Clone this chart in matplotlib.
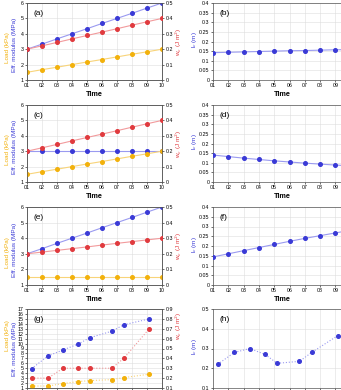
import numpy as np
import matplotlib.pyplot as plt

plt.rcParams['font.family'] = ['Liberation Sans', 'DejaVu Sans']

# --- data ---
time = [1, 2, 3, 4, 5, 6, 7, 8, 9, 10]
time_labels = ["01", "02", "03", "04", "05", "06", "07", "08", "09", "10"]

# (a) / (b)
a_mod = [3.0, 3.33, 3.67, 4.0, 4.33, 4.67, 5.0, 5.33, 5.67, 6.0]
a_load = [1.5, 1.67, 1.83, 2.0, 2.17, 2.33, 2.5, 2.67, 2.83, 3.0]
a_wc = [0.2, 0.222, 0.244, 0.267, 0.289, 0.311, 0.333, 0.356, 0.378, 0.4]
b_lc = [0.142, 0.144, 0.146, 0.148, 0.150, 0.152, 0.153, 0.155, 0.157, 0.158]

# (c) / (d)
c_mod = [3.0, 3.0, 3.0, 3.0, 3.0, 3.0, 3.0, 3.0, 3.0, 3.0]
c_load = [1.5, 1.67, 1.83, 2.0, 2.17, 2.33, 2.5, 2.67, 2.83, 3.0]
c_wc = [0.2, 0.222, 0.244, 0.267, 0.289, 0.311, 0.333, 0.356, 0.378, 0.4]
d_lc = [0.140, 0.132, 0.124, 0.117, 0.110, 0.104, 0.098, 0.093, 0.088, 0.084]

# (e) / (f)
e_mod = [3.0, 3.33, 3.67, 4.0, 4.33, 4.67, 5.0, 5.33, 5.67, 6.0]
e_load = [1.5, 1.5, 1.5, 1.5, 1.5, 1.5, 1.5, 1.5, 1.5, 1.5]
e_wc = [0.2, 0.211, 0.222, 0.233, 0.244, 0.256, 0.267, 0.278, 0.289, 0.3]
f_lc = [0.144, 0.160, 0.176, 0.192, 0.208, 0.224, 0.239, 0.253, 0.267, 0.281]

# (g) / (h) - measured at irregular times
g_time = [1.3, 2.4, 3.4, 4.4, 5.2, 6.65, 7.45, 9.15]
g_mod = [4.9, 7.5, 8.7, 9.9, 11.2, 12.5, 13.8, 15.0]
g_load = [1.4, 1.4, 1.9, 2.3, 2.5, 2.7, 3.1, 3.8]
g_wc = [0.2, 0.2, 0.3, 0.3, 0.3, 0.3, 0.4, 0.7]
h_lc = [0.22, 0.28, 0.30, 0.27, 0.225, 0.235, 0.28, 0.365]

# colours
BLUE, BLUE_L = "#3a3ad6", "#9a9af0"
RED, RED_L = "#e03a3e", "#f29a9c"
YEL, YEL_L = "#f2b10c", "#f8d47a"

TICK_FS = 3.8
LAB_FS = 4.6


def style_axis(ax):
    ax.tick_params(labelsize=TICK_FS, length=1.5, width=0.4, pad=1)
    for s in ax.spines.values():
        s.set_linewidth(0.5)
        s.set_color("#555555")


def series(ax, x, y, col, col_l, ls):
    ax.plot(x, y, color=col_l, lw=0.8, ls=ls, zorder=2)
    ax.plot(x, y, ls="none", marker="o", ms=2.6, color=col, zorder=3)


def set_time_axis(ax, n_labels, xlabel):
    ax.set_xlim(1, 10)
    ax.set_xticks(time)
    # labels past the figure edge (or below it) are not visible in the reference
    ax.set_xticklabels(time_labels[:n_labels] + [""] * (10 - n_labels))
    if xlabel:
        ax.set_xlabel("Time", fontsize=5.2, fontweight="bold", labelpad=1.5)


def left_panel(rect, tag, x, mod, load, wc, ylim, yticks, rlim, rticks, ls,
               lab_y=(0.42, 0.45, 0.5), xlabel=True):
    ax = fig.add_axes(rect)
    set_time_axis(ax, 10 if xlabel else 0, xlabel)
    ax.set_ylim(*ylim)
    ax.set_yticks(yticks)
    ax.grid(True, color="#dddddd", lw=0.4)
    ax.set_axisbelow(True)
    style_axis(ax)
    series(ax, x, mod, BLUE, BLUE_L, ls)
    series(ax, x, load, YEL, YEL_L, ls)
    ax2 = ax.twinx()
    ax2.set_ylim(*rlim)
    ax2.set_yticks(rticks)
    ax2.set_yticklabels([f"{t:g}" for t in rticks])
    style_axis(ax2)
    series(ax2, x, wc, RED, RED_L, ls)
    ax.text(-0.145, lab_y[0], "Load (kPa)", color=YEL, fontsize=LAB_FS, rotation=90,
            ha="center", va="center", transform=ax.transAxes)
    ax.text(-0.092, lab_y[1], "Eff. modulus (MPa)", color=BLUE, fontsize=LAB_FS, rotation=90,
            ha="center", va="center", transform=ax.transAxes)
    ax2.text(1.125, lab_y[2], r"w$_c$ (J m$^2$)", color=RED, fontsize=LAB_FS, rotation=90,
             ha="center", va="center", transform=ax.transAxes)
    ax.text(0.05, 0.87, tag, fontsize=6, ha="left", va="center", transform=ax.transAxes)
    return ax


def right_panel(rect, tag, x, lc, ylim, yticks, ls, xlabel=True):
    ax = fig.add_axes(rect)
    set_time_axis(ax, 9 if xlabel else 0, xlabel)
    ax.set_ylim(*ylim)
    ax.set_yticks(yticks)
    ax.set_yticklabels([f"{t:g}" for t in yticks])
    ax.grid(True, color="#dddddd", lw=0.4)
    ax.set_axisbelow(True)
    style_axis(ax)
    series(ax, x, lc, BLUE, BLUE_L, ls)
    ax.text(-0.135, 0.52, r"l$_c$ (m)", color=BLUE, fontsize=LAB_FS, rotation=90,
            ha="center", va="center", transform=ax.transAxes)
    ax.text(0.05, 0.87, tag, fontsize=6, ha="left", va="center", transform=ax.transAxes)
    return ax


fig = plt.figure(figsize=(3.41, 3.90), dpi=100)

W, H = 341.0, 390.0
lx, lw = 27 / W, 135 / W
rx, rw = 213 / W, 137.7 / W
rows = [(3, 80), (105, 182), (207, 285), (309, 388)]


def rect(x, w, row):
    top, bot = rows[row]
    return [x, (H - bot) / H, w, (bot - top) / H]


lc_ticks = [0, 0.05, 0.1, 0.15, 0.2, 0.25, 0.3, 0.35, 0.4]
mod_ticks = [1, 2, 3, 4, 5, 6]
wc_ticks = [0, 0.1, 0.2, 0.3, 0.4, 0.5]

left_panel(rect(lx, lw, 0), "(a)", time, a_mod, a_load, a_wc, (1, 6), mod_ticks, (0, 0.5), wc_ticks, "-")
right_panel(rect(rx, rw, 0), "(b)", time, b_lc, (0, 0.4), lc_ticks, "-")
left_panel(rect(lx, lw, 1), "(c)", time, c_mod, c_load, c_wc, (1, 6), mod_ticks, (0, 0.5), wc_ticks, "-")
right_panel(rect(rx, rw, 1), "(d)", time, d_lc, (0, 0.4), lc_ticks, "-")
left_panel(rect(lx, lw, 2), "(e)", time, e_mod, e_load, e_wc, (1, 6), mod_ticks, (0, 0.5), wc_ticks, "-")
right_panel(rect(rx, rw, 2), "(f)", time, f_lc, (0, 0.4), lc_ticks, "-")
left_panel(rect(lx, lw, 3), "(g)", g_time, g_mod, g_load, g_wc, (1, 17), list(range(1, 18)),
           (0.1, 0.9), [0.1, 0.2, 0.3, 0.4, 0.5, 0.6, 0.7, 0.8, 0.9], ":",
           lab_y=(0.66, 0.5, 0.78), xlabel=False)
right_panel(rect(rx, rw, 3), "(h)", g_time, h_lc, (0.1, 0.5), [0.1, 0.2, 0.3, 0.4, 0.5], ":", xlabel=False)

fig.savefig("out.png", dpi=100)
